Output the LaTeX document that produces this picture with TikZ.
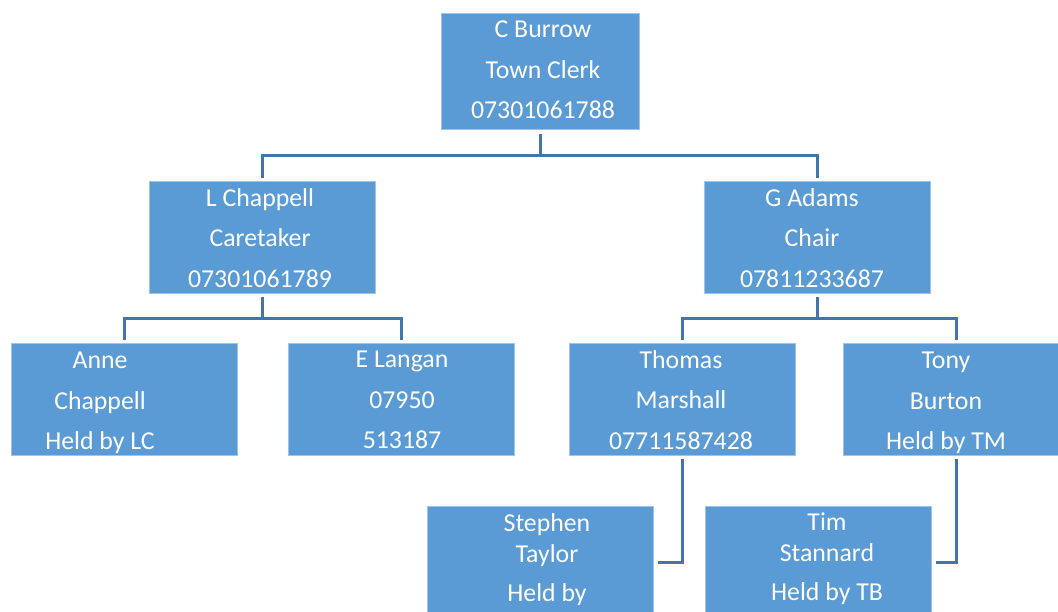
\documentclass[tikz,border=0pt]{standalone}
\usepackage{fontspec}
\setmainfont{Carlito}
\definecolor{boxblue}{RGB}{91,155,213}
\definecolor{boxedge}{RGB}{160,196,230}
\definecolor{connblue}{RGB}{68,116,168}
\begin{document}
\begin{tikzpicture}[x=1pt,y=-1pt,
  box/.style={rectangle, fill=boxblue, draw=boxedge, line width=0.8pt, minimum width=226pt, minimum height=112pt, anchor=north west, inner sep=0pt},
  topbox/.style={box, minimum width=198pt, minimum height=116pt},
  txt/.style={text=white, align=center, font=\fontsize{25.8}{40.5}\selectfont, inner sep=0pt, text depth=0pt},
  conn/.style={draw=connblue, line width=2.6pt}]
\clip (0,0) rectangle (1058,612);
\fill[white] (0,0) rectangle (1058,612);
% boxes
\node[topbox] (cb) at (441,13) {};
\node[box] (lc) at (149,181) {};
\node[box] (ga) at (704,181) {};
\node[box] (ac) at (11,343) {};
\node[box] (el) at (288,343) {};
\node[box] (tm) at (569,343) {};
\node[box] (tb) at (843,343) {};
\node[box] (st) at (427,506) {};
\node[box] (ts) at (705,506) {};
% texts
\node[txt] (cbt) at (543,70) {C Burrow\\Town Clerk\\07301061788};
\node[txt] (lct) at (260,238) {L Chappell\\Caretaker\\07301061789};
\node[txt] (gat) at (812,238) {G Adams\\Chair\\07811233687};
\node[txt] (act) at (100,401) {Anne\\Chappell\\Held by LC};
\node[txt] (elt) at (402,400) {E Langan\\07950\\513187};
\node[txt] (tmt) at (681,400) {Thomas\\Marshall\\07711587428};
\node[txt] (tbt) at (946,401) {Tony\\Burton\\Held by TM};
\node[txt, anchor=north, text depth=] (stt) at (547,513) {Stephen\\[-9.5pt]Taylor\\[-1.5pt]Held by};
\node[txt, anchor=north, text depth=] (tst) at (827,513) {Tim\\[-9.5pt]Stannard\\[-1.5pt]Held by TB};
% connectors
\draw[conn] ([yshift=-4pt]cb.south) -- ([yshift=-26pt]cb.south) -| ([yshift=3pt]lc.north);
\draw[conn] ([yshift=-26pt]cb.south) -| ([yshift=3pt]ga.north);
\draw[conn] ([yshift=-3pt]lc.south) -- ([yshift=-25pt]lc.south) -| ([yshift=3pt]ac.north);
\draw[conn] ([yshift=-25pt]lc.south) -| ([yshift=3pt]el.north);
\draw[conn] ([yshift=-3pt]ga.south) -- ([yshift=-25pt]ga.south) -| ([yshift=3pt]tm.north);
\draw[conn] ([yshift=-25pt]ga.south) -| ([yshift=3pt]tb.north);
\draw[conn] ([yshift=-3pt]tm.south) |- ([xshift=4pt]st.east);
\draw[conn] ([yshift=-3pt]tb.south) |- ([xshift=4pt]ts.east);
\end{tikzpicture}
\end{document}
